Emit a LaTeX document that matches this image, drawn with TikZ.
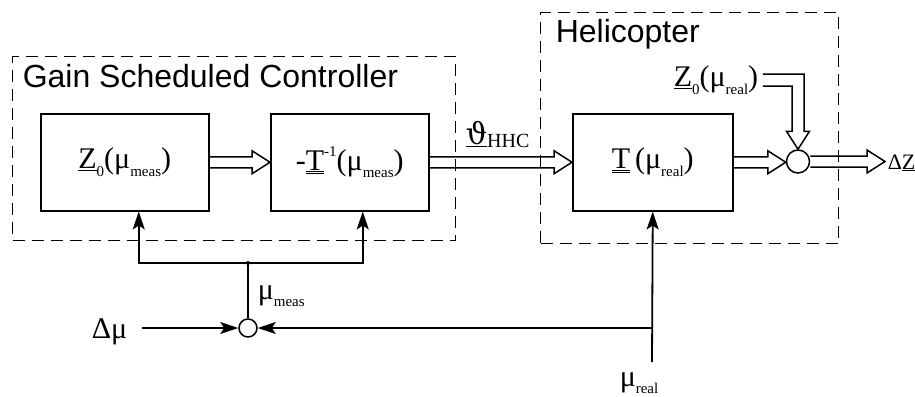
\documentclass[tikz,border=0pt]{standalone}
\usepackage{fontspec}
\setmainfont{Liberation Serif}
\setsansfont{Liberation Sans}
\newfontfamily\srf{Liberation Serif}
\newfontfamily\dvs{DejaVu Serif}
\usetikzlibrary{arrows.meta,calc}
\newcommand\lab{\srf\fontsize{30}{32}\selectfont}
\newcommand\sml[1]{\raisebox{-0.25em}{\srf\fontsize{15}{16}\selectfont #1}}
\newcommand\sps[1]{\raisebox{0.45em}{\srf\fontsize{15}{16}\selectfont #1}}
\newcommand\dul[1]{\underline{\underline{#1}}}
\begin{document}
\begin{tikzpicture}[x=1pt,y=-1pt,line width=1.5pt,
  blk/.style={draw,minimum height=97pt,inner sep=0pt,anchor=north west},
  dashbox/.style={draw,line width=1.2pt,dash pattern=on 12pt off 7pt,inner sep=0pt,anchor=north west},
  ttl/.style={anchor=base west,inner sep=0pt,font=\sffamily\fontsize{32}{34}\selectfont},
  txt/.style={inner sep=0pt},
  sumc/.style={circle,draw,fill=white,inner sep=0pt},
  fbarr/.style={line width=1.8pt,-{Stealth[length=18pt,width=12pt,inset=4pt]}},
  hollow/.style={to path={let \p1=(\tikztostart), \p2=(\tikztotarget) in
    (\x1,\y1+5.5pt) -- (\x2-18pt,\y1+5.5pt) -- (\x2-18pt,\y1+11.5pt) -- (\x2,\y1)
    -- (\x2-18pt,\y1-11.5pt) -- (\x2-18pt,\y1-5.5pt) -- (\x1,\y1-5.5pt)}}]
\useasboundingbox (0,0) rectangle (915,396);

% dashed groups
\node[dashbox,minimum width=443pt,minimum height=184pt] (ctrl) at (12,56) {};
\node[dashbox,minimum width=298pt,minimum height=231pt] (heli) at (540,12) {};
\node[ttl] (ctitle) at (22,88) {Gain Scheduled Controller};
\node[ttl] (htitle) at (555,43) {Helicopter};

% blocks
\node[blk,minimum width=168pt] (b1) at (40,113) {\lab\underline{Z}\sml{0}(μ\sml{meas})};
\node[blk,minimum width=158pt] (b2) at (270,113) {\lab-\dul{T}\sps{-1}(μ\sml{meas})};
\node[blk,minimum width=160pt] (T) at (572,113) {\lab\dul{T}\,(μ\sml{real})};

% summing points
\node[sumc,minimum size=23pt] (s2) at (798,161.5) {};
\node[sumc,minimum size=18pt] (s1) at (248,328) {};

% labels
\node[txt] (zr) at (716,80) {\lab\underline{Z}\sml{0}(μ\sml{real})};
\node[txt,anchor=base west] (th) at (465,144) {\lab\underline{\dvs ϑ}\raisebox{-0.1em}{\srf\fontsize{20}{20}\selectfont HHC}};
\node[txt,anchor=west] (dz) at (887,163) {\srf\fontsize{22}{24}\selectfont Δ\underline{Z}};
\node[txt,anchor=base east] (dmu) at (128,338) {\lab Δμ};
\node[txt,anchor=base west] (mm) at (257,299) {\lab μ\sml{meas}};
\node[txt,anchor=base west] (mr) at (619,386) {\lab μ\sml{real}};

% coordinates
\coordinate (j) at (248,263);
\coordinate (dmuout) at (142,328);
\coordinate (c) at (652,328);
\coordinate (mrtop) at (652,362);
\coordinate (zout) at (885,161.5);

% hollow signal arrows
\draw[hollow] (b1.east) to (b2.west);
\draw[hollow] (b2.east) to (T.west);
\draw[hollow] (T.east) to (s2.west);
\draw[hollow] (s2.east) to (zout);
\draw let \p1=(zr.east), \p2=(s2.north) in
  (\x1+4pt,\y1+6pt) -- (\x2+6pt,\y1+6pt) -- (\x2+6pt,\y2+18pt) -- (\x2+11.5pt,\y2+18pt)
  -- (\x2,\y2) -- (\x2-11.5pt,\y2+18pt) -- (\x2-6pt,\y2+18pt) -- (\x2-6pt,\y1-6pt)
  -- (\x1+4pt,\y1-6pt);

% scalar signal lines
\draw[line width=1.8pt] (j) -- (s1.north);
\fill (j) circle (2pt);
\draw[fbarr] (j) -| ([xshift=14pt]b1.south);
\draw[fbarr] (j) -| ([xshift=13pt]b2.south);
\draw[fbarr] (dmuout) -- (s1.west);
\draw[fbarr] (c) -- (s1.east);
\draw[fbarr] (mrtop) -- (T.south);
\end{tikzpicture}
\end{document}
